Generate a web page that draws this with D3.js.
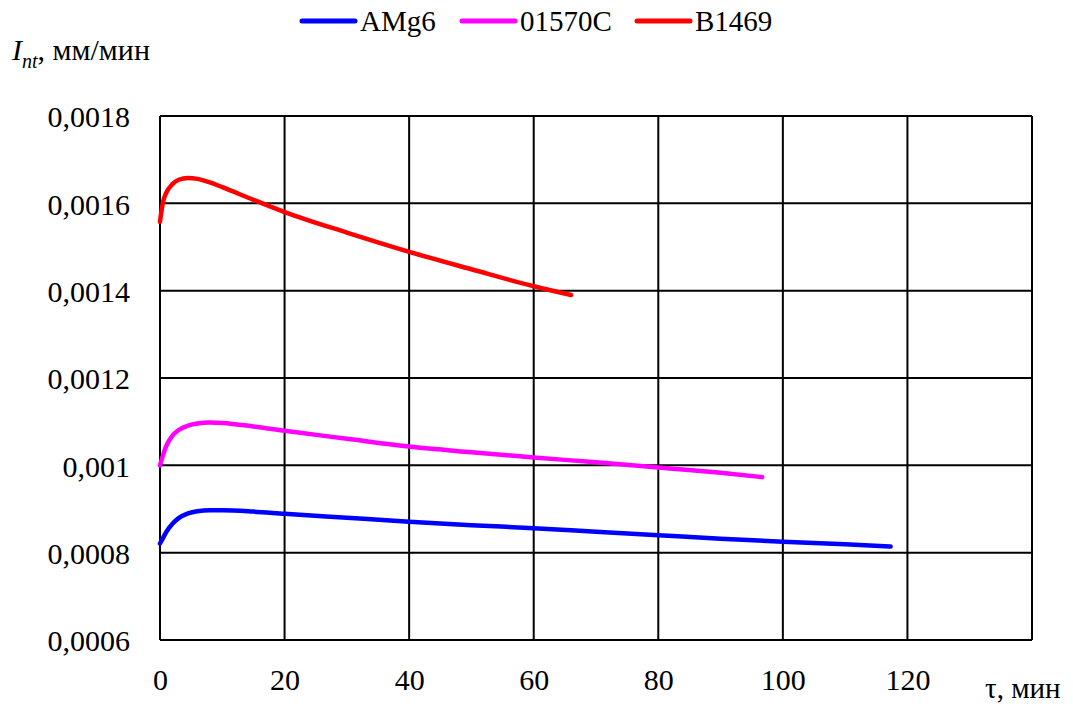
<!DOCTYPE html>
<html>
<head>
<meta charset="utf-8">
<script src="https://cdn.jsdelivr.net/npm/d3@7"></script>
<style>
  html, body { margin: 0; padding: 0; background: #fff; }
  svg { display: block; }
  svg text { font-family: "Liberation Serif", "Times New Roman", serif; }
</style>
</head>
<body>
<svg id="chart" width="1073" height="706"></svg>
<script>
// Wear rate I_nt (mm/min) versus time τ (min) for three alloys
const seriesNames = ["AMg6", "01570C", "B1469"];
const seriesColors = ["#0000ff", "#ff00ff", "#ff0000"];

const tAMg6 = [0, 0.5, 1, 2, 3, 4.5, 6, 8, 10, 15, 20, 30, 40, 50, 60, 70, 80, 90, 100, 110, 117.3];
const vAMg6 = [0.000821, 0.000834, 0.000847, 0.000866, 0.000879, 0.000890, 0.000895, 0.000897, 0.000897,
               0.000894, 0.000889, 0.000880, 0.000871, 0.000863, 0.000856, 0.000848, 0.000840, 0.000832,
               0.000825, 0.000819, 0.000814];

const t01570C = [0, 0.5, 1, 2, 3, 4.5, 6, 8, 10, 15, 20, 30, 40, 50, 60, 70, 80, 90, 96.7];
const v01570C = [0.001000, 0.001024, 0.001044, 0.001068, 0.001081, 0.001091, 0.001096, 0.001098, 0.001097,
                 0.001089, 0.001079, 0.001061, 0.001043, 0.001030, 0.001018, 0.001007, 0.000995, 0.000983,
                 0.000973];

const tB1469 = [0, 0.5, 1, 2, 3, 4.5, 6, 8, 10, 15, 20, 30, 40, 50, 60, 66];
const vB1469 = [0.001558, 0.001604, 0.001624, 0.001644, 0.001654, 0.001658, 0.001656, 0.001648, 0.001637,
                0.001608, 0.001580, 0.001533, 0.001489, 0.001449, 0.001410, 0.001390];

const xTicks = [0, 20, 40, 60, 80, 100, 120, 140];
const xTickLabels = ["0", "20", "40", "60", "80", "100", "120", ""];
const yTicks = [0.0006, 0.0008, 0.0010, 0.0012, 0.0014, 0.0016, 0.0018];
const yTickLabels = ["0,0006", "0,0008", "0,001", "0,0012", "0,0014", "0,0016", "0,0018"];

const seriesT = [tAMg6, t01570C, tB1469];
const seriesV = [vAMg6, v01570C, vB1469];

const svg = d3.select("#chart");
const plot = { left: 160, right: 1032, top: 116, bottom: 640 };

const x = d3.scaleLinear().domain([0, 140]).range([plot.left, plot.right]);
const y = d3.scaleLinear().domain([0.0006, 0.0018]).range([plot.bottom, plot.top]);

// grid
const grid = svg.append("g");
grid.selectAll("line.vx").data(xTicks).join("line")
  .attr("x1", d => x(d)).attr("x2", d => x(d))
  .attr("y1", plot.top).attr("y2", plot.bottom)
  .attr("stroke", "#000").attr("stroke-width", 2);
grid.selectAll("line.hy").data(yTicks).join("line")
  .attr("x1", plot.left).attr("x2", plot.right)
  .attr("y1", d => y(d)).attr("y2", d => y(d))
  .attr("stroke", "#000").attr("stroke-width", 2);

// axes (labels only)
const xAxis = d3.axisBottom(x).tickValues(xTicks)
  .tickFormat((d, i) => xTickLabels[i]).tickSize(0).tickPadding(0);
const gx = svg.append("g").attr("transform", `translate(0,${plot.bottom})`).call(xAxis);
gx.attr("font-family", null).attr("font-size", null);
gx.select(".domain").remove();
gx.selectAll("text").style("font-size", "30px").attr("fill", "#000")
  .attr("dy", null).attr("y", 50);

const yAxis = d3.axisLeft(y).tickValues(yTicks)
  .tickFormat((d, i) => yTickLabels[i]).tickSize(0).tickPadding(0);
const gy = svg.append("g").attr("transform", `translate(130,0)`).call(yAxis);
gy.attr("font-family", null).attr("font-size", null);
gy.select(".domain").remove();
gy.selectAll("text").style("font-size", "30px").attr("fill", "#000")
  .attr("dy", "0.36em");

// series
const line = d3.line().curve(d3.curveMonotoneX).x(d => x(d[0])).y(d => y(d[1]));
seriesNames.forEach((name, i) => {
  const pts = seriesT[i].map((t, j) => [t, seriesV[i][j]]);
  svg.append("path").datum(pts)
    .attr("d", line)
    .attr("fill", "none")
    .attr("stroke", seriesColors[i])
    .attr("stroke-width", 4.5)
    .attr("stroke-linecap", "round")
    .attr("stroke-linejoin", "round");
});

// legend
const legendX = [302, 462, 637];
const legend = svg.append("g");
seriesNames.forEach((name, i) => {
  legend.append("line")
    .attr("x1", legendX[i]).attr("x2", legendX[i] + 53)
    .attr("y1", 21).attr("y2", 21)
    .attr("stroke", seriesColors[i]).attr("stroke-width", 5)
    .attr("stroke-linecap", "round");
  legend.append("text")
    .attr("x", legendX[i] + 58).attr("y", 31)
    .style("font-size", "29px").attr("fill", "#000")
    .text(name);
});

// axis titles
const yt = svg.append("text").attr("x", 12).attr("y", 60).style("font-size", "30px").attr("fill", "#000");
yt.append("tspan").attr("font-style", "italic").text("I");
yt.append("tspan").attr("font-style", "italic").style("font-size", "20px").attr("dy", 8).text("nt");
yt.append("tspan").attr("dy", -8).text(", мм/мин");

svg.append("text").attr("x", 985).attr("y", 698).style("font-size", "29px").attr("fill", "#000")
  .text("τ, мин");
</script>
</body>
</html>
